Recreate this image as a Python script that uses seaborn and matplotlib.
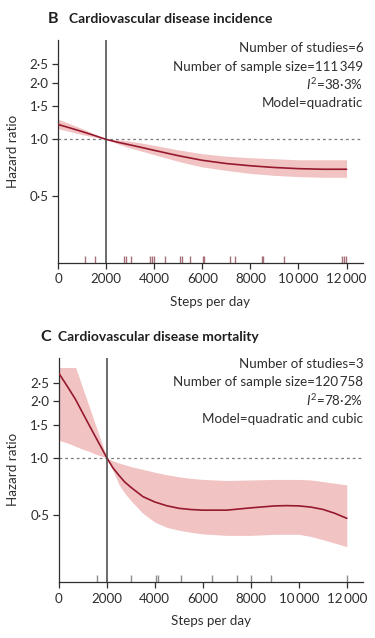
import numpy as np
import pandas as pd
import matplotlib
matplotlib.use("Agg")
import matplotlib.pyplot as plt
import seaborn as sns

# ---------------- data ----------------
inc_steps = [0, 500, 1000, 1500, 2000, 2500, 3000, 3500, 4000, 4500, 5000, 5500, 6000, 7000, 8000, 9000, 10000, 11000, 12000]
inc_hr    = [1.20, 1.15, 1.10, 1.05, 1.00, 0.965, 0.935, 0.905, 0.875, 0.847, 0.820, 0.797, 0.775, 0.745, 0.725, 0.710, 0.700, 0.695, 0.695]
inc_upper = [1.28, 1.21, 1.14, 1.07, 1.00, 0.995, 0.980, 0.955, 0.930, 0.905, 0.880, 0.860, 0.840, 0.815, 0.800, 0.790, 0.780, 0.780, 0.780]
inc_lower = [1.14, 1.10, 1.06, 1.03, 1.00, 0.945, 0.900, 0.865, 0.830, 0.797, 0.765, 0.738, 0.715, 0.685, 0.660, 0.645, 0.635, 0.630, 0.630]

mort_steps = [0, 250, 500, 700, 1000, 1250, 1500, 1750, 2000, 2250, 2500, 2750, 3000, 3500, 4000, 4500,
              5000, 5500, 6000, 7000, 8000, 9000, 9500, 10000, 10500, 11000, 11500, 12000]
mort_hr    = [2.80, 2.50, 2.23, 2.03, 1.72, 1.50, 1.31, 1.145, 1.00, 0.887, 0.81, 0.745, 0.70, 0.625, 0.585, 0.559,
              0.542, 0.534, 0.53, 0.53, 0.545, 0.558, 0.56, 0.558, 0.55, 0.535, 0.51, 0.48]
mort_upper = [3.00, 3.00, 3.00, 3.00, 2.33, 1.89, 1.53, 1.24, 1.00, 0.965, 0.94, 0.92, 0.90, 0.87, 0.84, 0.815,
              0.795, 0.78, 0.77, 0.76, 0.765, 0.77, 0.77, 0.77, 0.765, 0.75, 0.735, 0.72]
mort_lower = [1.24, 1.21, 1.18, 1.15, 1.11, 1.085, 1.05, 1.025, 1.00, 0.86, 0.726, 0.65, 0.595, 0.51, 0.458, 0.43,
              0.415, 0.405, 0.397, 0.39, 0.39, 0.395, 0.395, 0.395, 0.385, 0.37, 0.355, 0.34]

inc_rug  = [1110, 1530, 2730, 2820, 3020, 3810, 3910, 3995, 4440, 5060, 5170, 5480, 6005, 6075,
            7140, 7350, 8460, 8530, 9400, 11820, 11900, 11996]
mort_rug = [1570, 3000, 4030, 4140, 5090, 6370, 7410, 8006, 8840, 12000]

inc_info  = ["Number of studies=6", "Number of sample size=111\u2009349", r"$I^2$=38·3%", "Model=quadratic"]
mort_info = ["Number of studies=3", "Number of sample size=120\u2009758", r"$I^2$=78·2%", "Model=quadratic and cubic"]

x_ticks = [0, 2000, 4000, 6000, 8000, 10000, 12000]
x_ticklabels = ["0", "2000", "4000", "6000", "8000", "10\u2009000", "12\u2009000"]
y_ticks = [0.5, 1.0, 1.5, 2.0, 2.5]
y_ticklabels = ["0·5", "1·0", "1·5", "2·0", "2·5"]

# ---------------- style ----------------
sns.set_style("ticks")
plt.rcParams["font.family"] = ["Lato", "DejaVu Sans"]
plt.rcParams["mathtext.fontset"] = "custom"
plt.rcParams["mathtext.rm"] = "Lato"
plt.rcParams["mathtext.it"] = "Lato:italic"
plt.rcParams["text.color"] = "#2e2e2e"

LINE = "#96192e"
BAND = "#f1c3c3"
AX = "#2f2f2f"
FS = 9.6

fig = plt.figure(figsize=(3.75, 6.38), dpi=100)

def panel(rect, steps, hr, up, lo, rug, rugcol):
    ax = fig.add_axes(rect)
    ax.set_yscale("log")
    ax.fill_between(steps, lo, up, color=BAND, lw=0, zorder=1)
    df = pd.DataFrame({"steps": steps, "hr": hr})
    sns.lineplot(data=df, x="steps", y="hr", ax=ax, color=LINE, lw=1.2, zorder=3)
    ax.axhline(1.0, color="#7a7a7a", lw=0.9, ls=(0, (2.2, 2.4)), zorder=2)
    ax.axvline(2000, color="#444444", lw=1.1, zorder=4)
    sns.rugplot(x=rug, ax=ax, height=0.032, color=rugcol, lw=0.9, clip_on=False)
    ax.set_xlim(0, 12670)
    ax.set_ylim(0.222, 3.37)
    ax.set_xticks(x_ticks)
    ax.set_xticklabels(x_ticklabels)
    ax.set_yticks(y_ticks)
    ax.set_yticklabels(y_ticklabels)
    ax.yaxis.set_minor_locator(matplotlib.ticker.NullLocator())
    ax.tick_params(axis="both", direction="out", length=4, width=0.9, color=AX,
                   labelsize=FS, labelcolor="#2e2e2e")
    ax.tick_params(axis="x", pad=3.8)
    ax.tick_params(axis="y", pad=3.0)
    for s in ["top", "right"]:
        ax.spines[s].set_visible(False)
    for s in ["left", "bottom"]:
        ax.spines[s].set_color(AX)
        ax.spines[s].set_linewidth(0.9)
    ax.set_xlabel("Steps per day", fontsize=FS, color="#2e2e2e")
    ax.set_ylabel("Hazard ratio", fontsize=FS, color="#2e2e2e")
    ax.xaxis.set_label_coords(0.5, -0.15)
    ax.yaxis.set_label_coords(-0.13, 0.5)
    return ax

axB = panel([0.1555, 0.5883, 0.8115, 0.349], inc_steps, inc_hr, inc_upper, inc_lower, inc_rug, "#a6707a")
axC = panel([0.1570, 0.0882, 0.8107, 0.3507], mort_steps, mort_hr, mort_upper, mort_lower, mort_rug, "#8c8c8c")

# titles
fig.text(48 / 375, 1 - 19 / 638, "B", fontsize=11.5, fontweight="bold", va="center", ha="left", color="#1e1e1e")
fig.text(69 / 375, 1 - 19 / 638, "Cardiovascular disease incidence", fontsize=10, fontweight="bold",
         va="center", ha="left", color="#1e1e1e")
fig.text(40 / 375, 1 - 336.7 / 638, "C", fontsize=11.5, fontweight="bold", va="center", ha="left", color="#1e1e1e")
fig.text(58.3 / 375, 1 - 336.7 / 638, "Cardiovascular disease mortality", fontsize=10, fontweight="bold",
         va="center", ha="left", color="#1e1e1e")

# annotations
for txt, yc in zip(inc_info, [48.3, 66.7, 84.5, 103.3]):
    fig.text(363.3 / 375, 1 - yc / 638, txt, fontsize=FS, ha="right", va="center")
for txt, yc in zip(mort_info, [364, 382, 400, 419]):
    fig.text(363.3 / 375, 1 - yc / 638, txt, fontsize=FS, ha="right", va="center")

fig.savefig("out.png", dpi=100, facecolor="white")
